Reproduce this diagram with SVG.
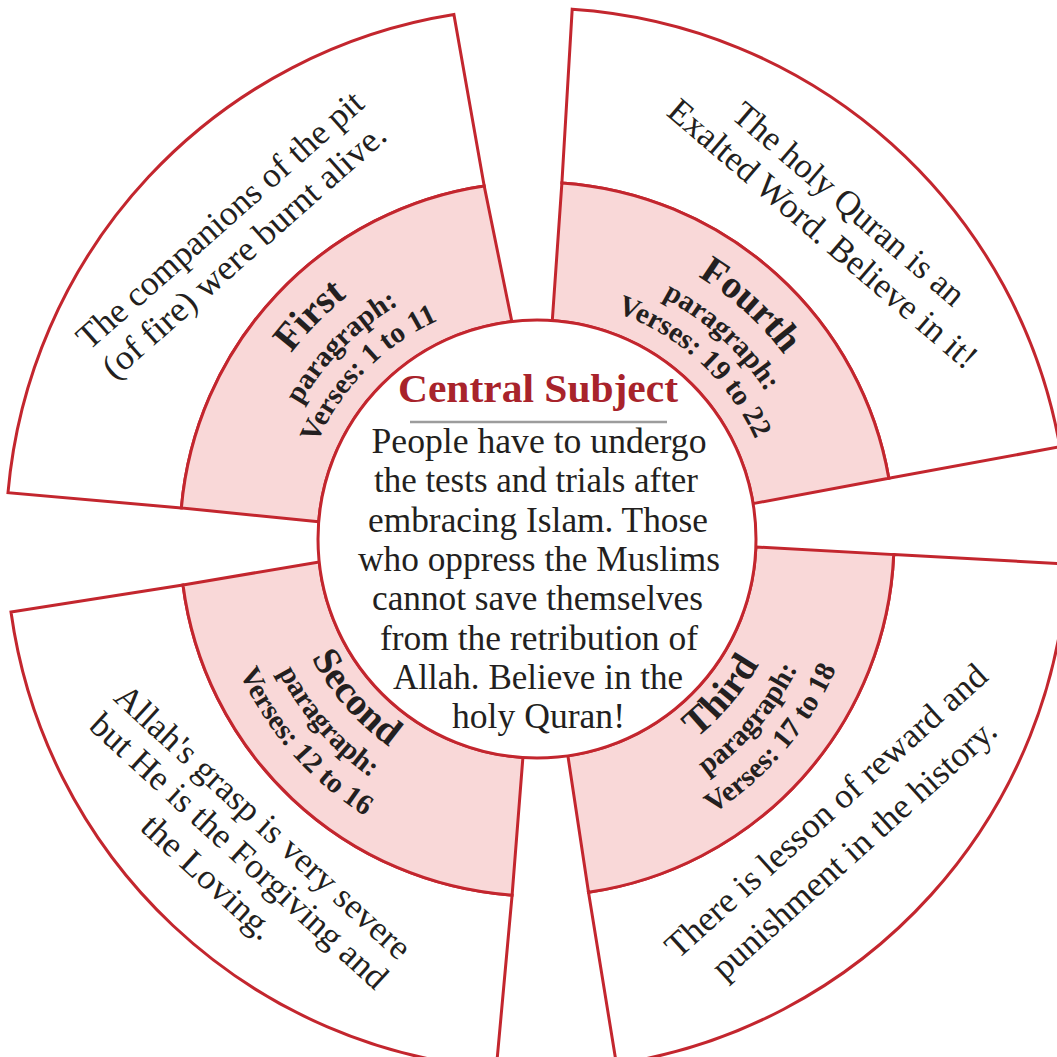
<svg xmlns="http://www.w3.org/2000/svg" width="1057" height="1057" viewBox="0 0 1057 1057">
<style>
.out{fill:#ffffff;stroke:#c3262e;stroke-width:3;stroke-linejoin:miter}
.pink{fill:#f9d8d8;stroke:#c3262e;stroke-width:3;stroke-linejoin:miter}
.t{font-family:"Liberation Serif","Times New Roman",serif;fill:#231f20;text-anchor:middle}
.o{font-size:35px}
.c{font-size:35px}
.h{font-size:39px;font-weight:bold}
.s{font-size:29px;font-weight:bold}
.title{font-family:"Liberation Serif","Times New Roman",serif;font-size:41px;font-weight:bold;fill:#a8232b;text-anchor:middle}
</style>
<defs>
<path id="tl1" d="M229.95,514.83 A308,308 0 0 1 507.48,232.42"/>
<path id="tl2" d="M265.84,517.66 A272,272 0 0 1 510.93,268.25"/>
<path id="tl3" d="M297.74,520.17 A240,240 0 0 1 514.0,300.1"/>
<path id="tr1" d="M549.9,231.27 A308,308 0 0 1 842.3,498.26"/>
<path id="tr2" d="M548.39,267.24 A272,272 0 0 1 806.61,503.03"/>
<path id="tr3" d="M547.05,299.21 A240,240 0 0 1 774.89,507.26"/>
<path id="bl1" d="M282.06,544.34 A255,255 0 0 0 497.99,791.0"/>
<path id="bl2" d="M246.1,545.1 A291,291 0 0 0 492.5,826.6"/>
<path id="bl3" d="M211.07,545.83 A326,326 0 0 0 487.13,861.16"/>
<path id="br1" d="M579.53,790.43 A255,255 0 0 0 791.99,540.78"/>
<path id="br2" d="M585.5,825.9 A291,291 0 0 0 828.0,541.0"/>
<path id="br3" d="M591.37,860.44 A326,326 0 0 0 862.99,541.28"/>
</defs>
<rect width="1057" height="1057" fill="#ffffff"/>
<g id="sector-first">
<path class="out" d="M181.4,507.9 L8.0,492.7 A531,531 0 0 1 453.9,14.5 L484.2,185.9 A357,357 0 0 0 181.4,507.9 Z"/>
<path class="pink" d="M318.7,521.8 L181.4,507.9 A357,357 0 0 1 484.2,185.9 L511.8,321.5 A219,219 0 0 0 318.7,521.8 Z"/>
<text class="t o" transform="translate(221,221) rotate(-41.5)" y="10" textLength="370" lengthAdjust="spacingAndGlyphs">The companions of the pit</text>
<text class="t o" transform="translate(245,252) rotate(-41.5)" y="10" textLength="366" lengthAdjust="spacingAndGlyphs">(of fire)  were burnt alive.</text>
<text class="t h"><textPath href="#tl1" startOffset="50%">First</textPath></text>
<text class="t s"><textPath href="#tl2" startOffset="50%">paragraph:</textPath></text>
<text class="t s"><textPath href="#tl3" startOffset="50%">Verses: 1 to 11</textPath></text>
</g>
<g id="sector-fourth">
<path class="out" d="M561.9,182.9 L572.2,9.2 A531,531 0 0 1 1059.9,446.8 L888.8,478.2 A357,357 0 0 0 561.9,182.9 Z"/>
<path class="pink" d="M552.3,320.5 L561.9,182.9 A357,357 0 0 1 888.8,478.2 L753.1,503.6 A219,219 0 0 0 552.3,320.5 Z"/>
<text class="t o" transform="translate(848,205) rotate(40.5)" y="10" textLength="293" lengthAdjust="spacingAndGlyphs">The holy Quran is an</text>
<text class="t o" transform="translate(822,235) rotate(40.5)" y="10" textLength="395" lengthAdjust="spacingAndGlyphs">Exalted Word. Believe in it!</text>
<text class="t h"><textPath href="#tr1" startOffset="50%">Fourth</textPath></text>
<text class="t s"><textPath href="#tr2" startOffset="50%">paragraph:</textPath></text>
<text class="t s"><textPath href="#tr3" startOffset="50%">Verses: 19 to 22</textPath></text>
</g>
<g id="sector-third">
<path class="out" d="M893.7,554.6 L1067.4,564.0 A531,531 0 0 1 616.4,1064.0 L588.5,892.3 A357,357 0 0 0 893.7,554.6 Z"/>
<path class="pink" d="M755.9,547.0 L893.7,554.6 A357,357 0 0 1 588.5,892.3 L567.9,755.8 A219,219 0 0 0 755.9,547.0 Z"/>
<text class="t o" transform="translate(827,812) rotate(-42)" y="10" textLength="420" lengthAdjust="spacingAndGlyphs">There is lesson of reward and</text>
<text class="t o" transform="translate(855,850) rotate(-42)" y="10" textLength="370" lengthAdjust="spacingAndGlyphs">punishment in the history.</text>
<text class="t h"><textPath href="#br1" startOffset="50%">Third</textPath></text>
<text class="t s"><textPath href="#br2" startOffset="50%">paragraph:</textPath></text>
<text class="t s"><textPath href="#br3" startOffset="50%">Verses: 17 to 18</textPath></text>
</g>
<g id="sector-second">
<path class="out" d="M512.1,895.1 L496.3,1068.4 A531,531 0 0 1 11.0,612.0 L183.0,585.0 A357,357 0 0 0 512.1,895.1 Z"/>
<path class="pink" d="M522.9,757.5 L512.1,895.1 A357,357 0 0 1 183.0,585.0 L319.2,561.9 A219,219 0 0 0 522.9,757.5 Z"/>
<text class="t o" transform="translate(262,823) rotate(42.5)" y="10" textLength="388" lengthAdjust="spacingAndGlyphs">Allah's grasp is very severe</text>
<text class="t o" transform="translate(238,852) rotate(42.5)" y="10" textLength="390" lengthAdjust="spacingAndGlyphs">but He is the Forgiving and</text>
<text class="t o" transform="translate(207,878) rotate(42.5)" y="10" textLength="167" lengthAdjust="spacingAndGlyphs">the Loving.</text>
<text class="t h"><textPath href="#bl1" startOffset="50%">Second</textPath></text>
<text class="t s"><textPath href="#bl2" startOffset="50%">paragraph:</textPath></text>
<text class="t s"><textPath href="#bl3" startOffset="50%">Verses: 12 to 16</textPath></text>
</g>
<g id="central-subject">
<circle cx="537" cy="539" r="219" fill="#ffffff" stroke="#c3262e" stroke-width="3"/>
<text class="title" x="538" y="402" textLength="280" lengthAdjust="spacingAndGlyphs">Central Subject</text>
<line x1="410" y1="422" x2="667" y2="422" stroke="#9c9c9c" stroke-width="2.5"/>
<text class="t c" x="539" y="453" textLength="335" lengthAdjust="spacingAndGlyphs">People have to undergo</text>
<text class="t c" x="536" y="492" textLength="324" lengthAdjust="spacingAndGlyphs">the tests and trials after</text>
<text class="t c" x="538" y="532" textLength="340" lengthAdjust="spacingAndGlyphs">embracing Islam. Those</text>
<text class="t c" x="539" y="571" textLength="362" lengthAdjust="spacingAndGlyphs">who oppress the Muslims</text>
<text class="t c" x="537.5" y="610" textLength="331" lengthAdjust="spacingAndGlyphs">cannot save themselves</text>
<text class="t c" x="539" y="650" textLength="318" lengthAdjust="spacingAndGlyphs">from the retribution of</text>
<text class="t c" x="538" y="689" textLength="290" lengthAdjust="spacingAndGlyphs">Allah. Believe in the</text>
<text class="t c" x="538.5" y="728" textLength="173" lengthAdjust="spacingAndGlyphs">holy Quran!</text>
</g>
</svg>
